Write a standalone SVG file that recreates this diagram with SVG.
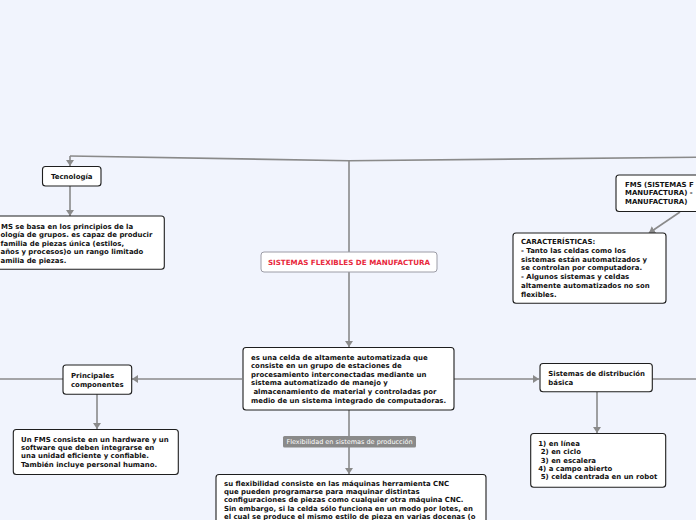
<svg xmlns="http://www.w3.org/2000/svg" width="696" height="520" viewBox="0 0 696 520">
<defs>
<marker id="ah" markerUnits="userSpaceOnUse" markerWidth="10" markerHeight="10" refX="6" refY="4.5" orient="auto">
<path d="M0,0.5 L6,4.5 L0,8.5 Z" fill="#8a8a8a"/>
</marker>
<style>
.bg{fill:#f1f4fd}
.c{fill:none;stroke:#8a8a8a;stroke-width:1.6}
.box{fill:#ffffff;stroke:#1e1e1e;stroke-width:1.1}
.t{font-family:"DejaVu Sans","Liberation Sans",sans-serif;font-size:6.95px;font-weight:bold;fill:#111}
.main{fill:#ffffff;stroke:#9c9ca6;stroke-width:1}
.mt{font-family:"DejaVu Sans","Liberation Sans",sans-serif;font-size:7.15px;font-weight:bold;fill:#e8283c}
.lb{fill:#8a8a8a}
.lt{font-family:"DejaVu Sans","Liberation Sans",sans-serif;font-size:6.5px;fill:#ffffff}
</style>
</defs>
<rect class="bg" x="0" y="0" width="696" height="520"/>
<g id="connectors">
<path class="c" d="M70,156 L349,160.7 L696,157.3"/>
<path class="c" d="M349,160.7 L349,252"/>
<path class="c" d="M70,156 L70,166" marker-end="url(#ah)"/>
<path class="c" d="M70,186 L70,216" marker-end="url(#ah)"/>
<path class="c" d="M680,212 L649,233" marker-end="url(#ah)"/>
<path class="c" d="M349,272 L349,347" marker-end="url(#ah)"/>
<path class="c" d="M242,379 L132,379" marker-end="url(#ah)"/>
<path class="c" d="M454,379 L539,379" marker-end="url(#ah)"/>
<path class="c" d="M63,379 L0,379"/>
<path class="c" d="M652,379 L696,379"/>
<path class="c" d="M97,394 L97,429" marker-end="url(#ah)"/>
<path class="c" d="M597,392 L597,433" marker-end="url(#ah)"/>
<path class="c" d="M349,410 L349,436"/>
<path class="c" d="M349,447 L349,474" marker-end="url(#ah)"/>
</g>
<g id="label-flexibilidad">
<rect class="lb" x="283" y="436" width="133" height="11.5" rx="1.5"/>
<text class="lt" x="349.5" y="444" text-anchor="middle">Flexibilidad en sistemas de producción</text>
</g>
<g id="n-central">
<rect class="main" x="261" y="252" width="176" height="20" rx="3"/>
<text class="mt" x="349" y="264.5" text-anchor="middle">SISTEMAS FLEXIBLES DE MANUFACTURA</text>
</g>
<g id="n-tecnologia">
<rect class="box" x="42.5" y="166.5" width="58.5" height="19.5" rx="3"/>
<text class="t" x="71.7" y="179" text-anchor="middle">Tecnología</text>
</g>
<g id="n-fms-base">
<rect class="box" x="-10" y="216" width="174.3" height="53.3" rx="3"/>
<text class="t" x="1" y="229"><tspan x="1">MS se basa en los principios de la</tspan><tspan x="0.5" dy="8.4">ología de grupos. es capaz de producir</tspan><tspan x="0.5" dy="8.4">familia de piezas única (estilos,</tspan><tspan x="0.5" dy="8.4">años y procesos)o un rango limitado</tspan><tspan x="0.5" dy="8.4">amilia de piezas.</tspan></text>
</g>
<g id="n-fms-titulo">
<rect class="box" x="616" y="175" width="100" height="36.5" rx="3"/>
<text class="t" x="625" y="187"><tspan x="625">FMS (SISTEMAS F</tspan><tspan x="625" dy="8.4">MANUFACTURA) -</tspan><tspan x="625" dy="8.4">MANUFACTURA)</tspan></text>
</g>
<g id="n-caracteristicas">
<rect class="box" x="513" y="233" width="153" height="70.3" rx="3"/>
<text class="t" x="521" y="244"><tspan x="521">CARACTERÍSTICAS:</tspan><tspan x="521" dy="8.8">- Tanto las celdas como los</tspan><tspan x="521" dy="8.8">sistemas están automatizados y</tspan><tspan x="521" dy="8.8">se controlan por computadora.</tspan><tspan x="521" dy="8.8">- Algunos sistemas y celdas</tspan><tspan x="521" dy="8.8">altamente automatizados no son</tspan><tspan x="521" dy="8.8">flexibles.</tspan></text>
</g>
<g id="n-definicion">
<rect class="box" x="243" y="347.5" width="211" height="62.5" rx="3"/>
<text class="t" x="251" y="359.5"><tspan x="251">es una celda de altamente automatizada que</tspan><tspan x="251" dy="8.6">consiste en un grupo de estaciones de</tspan><tspan x="251" dy="8.6">procesamiento interconectadas mediante un</tspan><tspan x="251" dy="8.6">sistema automatizado de manejo y</tspan><tspan x="251" dy="8.6"> almacenamiento de material y controladas por</tspan><tspan x="251" dy="8.6">medio de un sistema integrado de computadoras.</tspan></text>
</g>
<g id="n-principales">
<rect class="box" x="63" y="365" width="68.7" height="29.3" rx="3"/>
<text class="t" x="71" y="378"><tspan x="71">Principales</tspan><tspan x="71" dy="9.2">componentes</tspan></text>
</g>
<g id="n-hardware">
<rect class="box" x="13.3" y="429.5" width="165" height="45" rx="3"/>
<text class="t" x="21" y="442"><tspan x="21">Un FMS consiste en un hardware y un</tspan><tspan x="21" dy="8.2">software que deben integrarse en</tspan><tspan x="21" dy="8.2">una unidad eficiente y confiable.</tspan><tspan x="21" dy="8.2">También incluye personal humano.</tspan></text>
</g>
<g id="n-sistemas-distribucion">
<rect class="box" x="540" y="363.5" width="112.3" height="28.2" rx="3"/>
<text class="t" x="548.3" y="376"><tspan x="548.3">Sistemas de distribución</tspan><tspan x="548.3" dy="9.2">básica</tspan></text>
</g>
<g id="n-lista">
<rect class="box" x="530.7" y="433.5" width="135" height="53.8" rx="3"/>
<text class="t" x="538.3" y="446"><tspan x="538.3">1) en línea</tspan><tspan x="538.3" dy="8.3"> 2) en ciclo</tspan><tspan x="538.3" dy="8.3"> 3) en escalera</tspan><tspan x="538.3" dy="8.3">4) a campo abierto</tspan><tspan x="538.3" dy="8.3"> 5) celda centrada en un robot</tspan></text>
</g>
<g id="n-flexibilidad">
<rect class="box" x="216" y="474.5" width="270" height="60" rx="3"/>
<text class="t" x="224" y="486"><tspan x="224">su flexibilidad consiste en las máquinas herramienta CNC</tspan><tspan x="224" dy="8.2">que pueden programarse para maquinar distintas</tspan><tspan x="224" dy="8.2">configuraciones de piezas como cualquier otra máquina CNC.</tspan><tspan x="224" dy="8.2">Sin embargo, si la celda sólo funciona en un modo por lotes, en</tspan><tspan x="224" dy="8.2">el cual se produce el mismo estilo de pieza en varias docenas (o</tspan></text>
</g>
</svg>
